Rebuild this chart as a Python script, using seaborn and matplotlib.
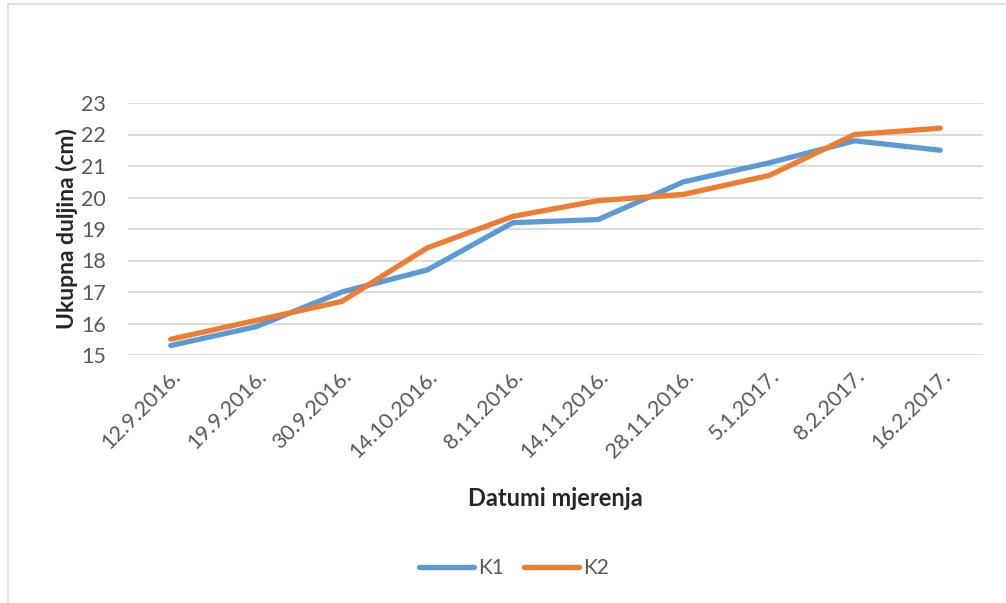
import numpy as np
import pandas as pd
import matplotlib
matplotlib.use("Agg")
import matplotlib.pyplot as plt
import seaborn as sns
from matplotlib.lines import Line2D

# Data
dates = ['12.9.2016.', '19.9.2016.', '30.9.2016.', '14.10.2016.', '8.11.2016.',
         '14.11.2016.', '28.11.2016.', '5.1.2017.', '8.2.2017.', '16.2.2017.']
k1 = [15.3, 15.9, 17.0, 17.7, 19.2, 19.3, 20.5, 21.1, 21.8, 21.5]
k2 = [15.5, 16.1, 16.7, 18.4, 19.4, 19.9, 20.1, 20.7, 22.0, 22.2]

series_names = ['K1', 'K2']
colors = ['#5B9BD5', '#ED7D31']

df = pd.DataFrame({
    'pos': list(range(len(dates))) * 2,
    'value': k1 + k2,
    'serija': ['K1'] * len(k1) + ['K2'] * len(k2),
})

sns.set_style("white")
plt.rcParams['font.family'] = ['Lato', 'DejaVu Sans']

W, H = 1006, 603
fig = plt.figure(figsize=(W / 100, H / 100), dpi=100)
ax = fig.add_axes([128 / W, 1 - 355 / H, (983 - 128) / W, (355 - 103) / H])

sns.lineplot(data=df, x='pos', y='value', hue='serija', palette=colors,
             linewidth=3.8, ax=ax, legend=False, solid_capstyle='round')

ax.set_xlim(-0.5, len(dates) - 0.5)
ax.set_ylim(15, 23)
ax.set_yticks(range(15, 24))
ax.set_xticks(range(len(dates)))
ax.set_xticklabels(dates, rotation=45, ha='right', rotation_mode='anchor')
ax.tick_params(axis='both', length=0, labelsize=15.5, labelcolor='#595959')
ax.tick_params(axis='x', pad=8)
ax.tick_params(axis='y', pad=16)
ax.grid(axis='y', color='#D9D9D9', linewidth=1.3)
ax.set_axisbelow(True)
for s in ax.spines.values():
    s.set_visible(False)

ax.set_xlabel('')
ax.set_ylabel('Ukupna duljina (cm)', fontsize=16.5, fontweight='bold', labelpad=2)
fig.text(555 / W, 1 - 498 / H, 'Datumi mjerenja', fontsize=17, fontweight='bold',
         ha='center', va='center')

handles = [Line2D([], [], color=c, linewidth=3.8, solid_capstyle='round') for c in colors]
leg = fig.legend(handles, series_names, loc='center', bbox_to_anchor=(514 / W, 1 - 568 / H),
                 ncol=2, frameon=False, fontsize=15, handlelength=2.6, columnspacing=1.0,
                 handletextpad=0.2)
for t in leg.get_texts():
    t.set_color('#595959')

# chart frame
fig.add_artist(Line2D([8 / W, 1], [1 - 4 / H, 1 - 4 / H], transform=fig.transFigure,
                      color='#D9D9D9', linewidth=1.2))
fig.add_artist(Line2D([8 / W, 8 / W], [0, 1 - 4 / H], transform=fig.transFigure,
                      color='#D9D9D9', linewidth=1.2))

fig.savefig('out.png', dpi=100)
